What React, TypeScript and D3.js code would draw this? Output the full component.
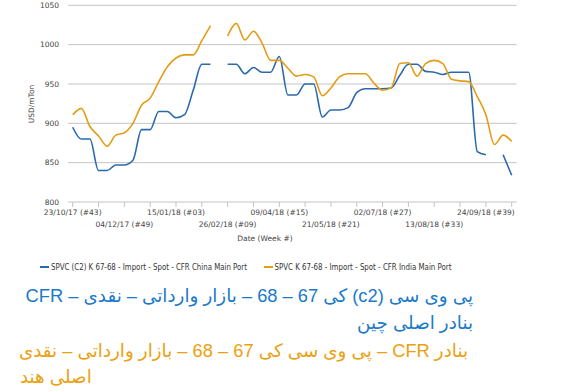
import React from "react";
import * as d3 from "d3";

const weeks: number[] = d3.range(52);
const chinaValues: (number | null)[] = [
  895, 880, 880, 840, 840, 847, 847, 853, 892, 892,
  915, 915, 907, 911, 942, 975, 975, null, 975, 975,
  963, 971, 965, 965, 985, 936, 936, 950, 950, 908,
  917, 917, 920, 939, 944, 944, 944, 945, 961, 975,
  975, 966, 965, 962, 965, 965, 965, 864, 860, null,
  860, 834,
];
const indiaValues: (number | null)[] = [
  911, 919, 896, 884, 871, 885, 888, 900, 923, 932,
  953, 972, 983, 987, 987, 1005, 1024, null, 1011, 1027,
  1006, 1017, 1002, 980, 980, 970, 960, 962, 959, 935,
  945, 959, 963, 963, 963, 951, 942, 945, 976, 977,
  960, 976, 980, 976, 956, 954, 953, 934, 911, 873,
  885, 877,
];
const tickLabels: string[] = [
  "23/10/17 (#43)", "04/12/17 (#49)", "15/01/18 (#03)", "26/02/18 (#09)",
  "09/04/18 (#15)", "21/05/18 (#21)", "02/07/18 (#27)", "13/08/18 (#33)",
  "24/09/18 (#39)",
];
const yTicks: number[] = [800, 850, 900, 950, 1000, 1050];
const seriesNames: string[] = [
  "SPVC (C2) K 67-68 - Import - Spot - CFR China Main Port",
  "SPVC K 67-68 - Import - Spot - CFR India Main Port",
];
const blueLines: string[] = [
  "پی وی سی (c2) کی 67 – 68 – بازار وارداتی – نقدی – CFR",
  "بنادر اصلی چین",
];
const orangeLines: string[] = [
  "بنادر CFR – پی وی سی کی 67 – 68 – بازار وارداتی – نقدی",
  "اصلی هند",
];

const BLUE = "#2b69ad";
const ORANGE = "#e39c14";
const BLUE_TXT = "#1b79c9";
const ORANGE_TXT = "#eba10f";
const FONT = "DejaVu Sans, sans-serif";
const FA_FONT = "Liberation Sans, DejaVu Sans, sans-serif";
const FA_SIZE = 18.3;

export default function App() {
  const W = 576, H = 392;
  const x = d3.scaleLinear().domain([0, 51]).range([72.7, 511.7]);
  const y = d3.scaleLinear().domain([800, 1050]).range([202, 5.3]);
  const line = d3
    .line<number | null>()
    .defined((d) => d !== null)
    .x((_, i) => x(weeks[i]))
    .y((d) => y(d as number))
    .curve(d3.curveMonotoneX);
  const tickWeeks = d3.range(0, 52, 3);

  return (
    <svg width={W} height={H} style={{ position: "absolute", left: 0, top: 0, background: "#fff" }}>
      {yTicks.map((t) => (
        <g key={t}>
          <line x1={68} x2={516.7} y1={y(t)} y2={y(t)} stroke="#c4c4c4" strokeWidth={1} />
          <text x={59} y={y(t)} dy="0.35em" textAnchor="end" fontFamily={FONT} fontSize={7.5} fill="#444">
            {t}
          </text>
        </g>
      ))}
      {tickWeeks.map((w) => (
        <line key={w} x1={x(w)} x2={x(w)} y1={202} y2={207} stroke="#c4c4c4" strokeWidth={1} />
      ))}
      {tickLabels.map((lab, i) => (
        <text
          key={lab}
          x={x(i * 6)}
          y={i % 2 === 0 ? 215 : 227}
          textAnchor="middle"
          fontFamily={FONT}
          fontSize={7.5}
          fill="#444"
        >
          {lab}
        </text>
      ))}
      <text x={265} y={240.5} textAnchor="middle" fontFamily={FONT} fontSize={7.5} fill="#444">
        Date (Week #)
      </text>
      <text
        transform={`translate(34,104) rotate(-90)`}
        textAnchor="middle"
        fontFamily={FONT}
        fontSize={7.5}
        fill="#444"
      >
        USD/mTon
      </text>
      <path d={line(chinaValues) || ""} fill="none" stroke={BLUE} strokeWidth={1.6} />
      <path d={line(indiaValues) || ""} fill="none" stroke={ORANGE} strokeWidth={1.6} />

      {/* legend */}
      <line x1={40} x2={49} y1={267} y2={267} stroke={BLUE} strokeWidth={2} />
      <text x={51} y={270} fontFamily={FONT} fontSize={8} fill="#333" textLength={196} lengthAdjust="spacingAndGlyphs">
        {seriesNames[0]}
      </text>
      <line x1={264} x2={273} y1={267} y2={267} stroke={ORANGE} strokeWidth={2} />
      <text x={274.5} y={270} fontFamily={FONT} fontSize={8} fill="#333" textLength={177} lengthAdjust="spacingAndGlyphs">
        {seriesNames[1]}
      </text>

      {/* Farsi captions */}
      <text x={473} y={302} direction="rtl" textAnchor="start" fontFamily={FA_FONT} fontSize={FA_SIZE} fill={BLUE_TXT}>
        {blueLines[0]}
      </text>
      <text x={473} y={329} direction="rtl" textAnchor="start" fontFamily={FA_FONT} fontSize={FA_SIZE} fill={BLUE_TXT}>
        {blueLines[1]}
      </text>
      <text x={468} y={357} direction="rtl" textAnchor="start" fontFamily={FA_FONT} fontSize={FA_SIZE} fill={ORANGE_TXT}>
        {orangeLines[0]}
      </text>
      <text x={20} y={383} direction="ltr" textAnchor="start" fontFamily={FA_FONT} fontSize={FA_SIZE} fill={ORANGE_TXT}>
        {orangeLines[1]}
      </text>
    </svg>
  );
}
